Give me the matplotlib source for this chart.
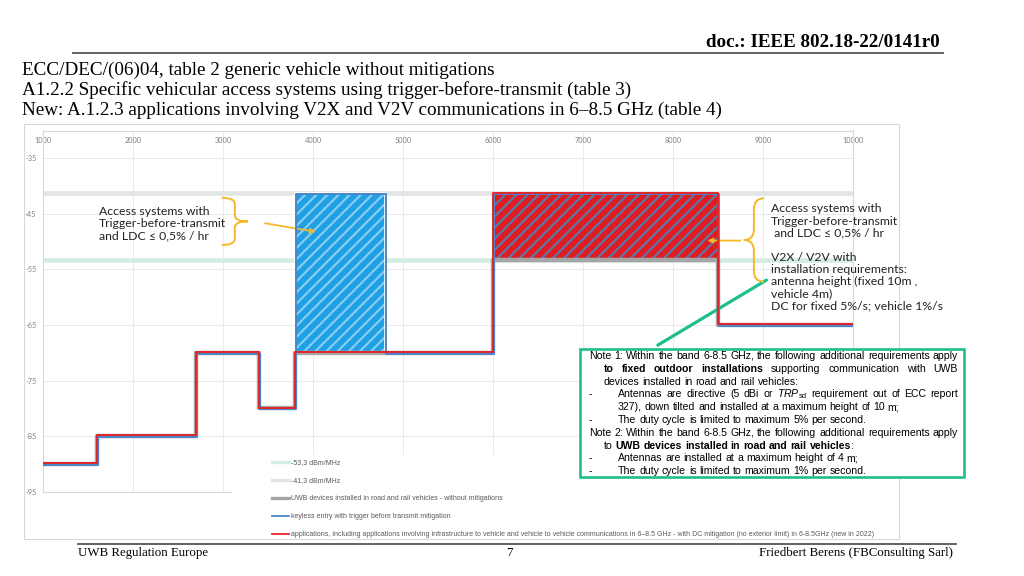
import matplotlib
matplotlib.use("Agg")
import matplotlib.pyplot as plt
import matplotlib.transforms as mtransforms
from matplotlib.lines import Line2D
from matplotlib.patches import Rectangle, PathPatch
from matplotlib.path import Path

W, H, DPI = 1024, 576, 100

# frequency band edges (MHz) and limits (dBm/MHz) per band
freq_edges = [1000, 1600, 2700, 3400, 3800, 4800, 6000, 8500, 10000]
generic_limit = [-90, -85, -70, -80, -70, -70, -53.3, -65]
keyless_limit = [-90, -85, -70, -80, -41.3, -70, -41.3, -65]
v2x_limit = [-90, -85, -70, -80, -70, -70, -41.3, -65]
ref_levels = [-53.3, -41.3]

x_ticks = [1000, 2000, 3000, 4000, 5000, 6000, 7000, 8000, 9000, 10000]
y_ticks = [-35, -45, -55, -65, -75, -85, -95]

legend_labels = [
    "-53,3 dBm/MHz",
    "-41,3 dBm/MHz",
    "UWB devices installed in road and rail vehicles - without mitigations",
    "keyless entry with trigger before transmit mitigation",
    "applications, including applications involving infrastructure to vehicle and vehicle to vehicle "
    "communications in 6\u20138.5 GHz - with DC mitigation (no exterior limit) in 6-8.5GHz (new in 2022)",
]

title_lines = [
    "ECC/DEC/(06)04, table 2 generic vehicle without mitigations",
    "A1.2.2 Specific vehicular access systems using trigger-before-transmit (table 3)",
    "New: A.1.2.3 applications involving V2X and V2V communications in 6\u20138.5 GHz (table 4)",
]

left_note = "Access systems with\nTrigger-before-transmit\nand LDC \u2264 0,5% / hr"
right_note = ("Access systems with\nTrigger-before-transmit\n and LDC \u2264 0,5% / hr\n\n"
              "V2X / V2V with\ninstallation requirements:\nantenna height (fixed 10m ,\n"
              "vehicle 4m)\nDC for fixed 5%/s; vehicle 1%/s")

# note box: (segments [(text, weight)], indent, dash, justify)
note_lines = [
    ([("Note 1: Within the band 6-8.5 GHz, the following additional requirements apply", "normal")], 0, False, True),
    ([("to fixed outdoor installations", "bold"), ("supporting communication with UWB", "normal")], 1, False, True),
    ([("devices installed in road and rail vehicles:", "normal")], 1, False, False),
    ([("Antennas are directive (5 dBi or", "normal"), (r"$\mathit{TRP}_{\mathrm{sd}}$", "normal"),
      ("requirement out of ECC report", "normal")], 2, True, True),
    ([("327), down tilted and installed at a maximum height of 10 m;", "normal")], 2, False, False),
    ([("The duty cycle is limited to maximum 5% per second.", "normal")], 2, True, False),
    ([("Note 2: Within the band 6-8.5 GHz, the following additional requirements apply", "normal")], 0, False, True),
    ([("to", "normal"), ("UWB devices installed in road and rail vehicles", "bold"), (":", "normal")], 1, False, False),
    ([("Antennas are installed at a maximum height of 4 m;", "normal")], 2, True, False),
    ([("The duty cycle is limited to maximum 1% per second.", "normal")], 2, True, False),
]

GRAY, BLUE, RED = "#a6a6a6", "#4a86c8", "#e3242b"
YELLOW, TEAL = "#f5b828", "#1dbf8c"

plt.rcParams["font.family"] = ["Lato", "DejaVu Sans"]
plt.rcParams["axes.unicode_minus"] = False
plt.rcParams["mathtext.fontset"] = "custom"
plt.rcParams["mathtext.rm"] = "Liberation Sans"
plt.rcParams["mathtext.it"] = "Liberation Sans:italic"
plt.rcParams["mathtext.bf"] = "Liberation Sans:bold"
plt.rcParams["hatch.linewidth"] = 1.6


def px(x, y):
    """Pixel position (from top left) to figure fraction"""
    return x / W, 1 - y / H


def steps(values):
    return list(values) + [values[-1]]


def hatched_box(ax, x0, x1, y0, y1, face, hatch_color):
    ax.add_patch(Rectangle((x0, y0), x1 - x0, y1 - y0, facecolor=face, edgecolor="none", zorder=2))
    ax.add_patch(Rectangle((x0, y0), x1 - x0, y1 - y0, facecolor="none", edgecolor=hatch_color,
                           hatch="///", lw=0, zorder=2.1))
    ax.add_patch(Rectangle((x0, y0), x1 - x0, y1 - y0, facecolor="none", edgecolor="white",
                           lw=1.2, zorder=2.2))


def brace(ax, x_open, x_tip, y_top, y_bot, color):
    xm = (x_open + x_tip) / 2
    ym = (y_top + y_bot) / 2
    r = (y_top - y_bot) * 0.13
    verts = [(x_open, y_top), (xm, y_top), (xm, y_top - r), (xm, ym + r), (xm, ym), (x_tip, ym),
             (xm, ym), (xm, ym - r), (xm, y_bot + r), (xm, y_bot), (x_open, y_bot)]
    codes = [Path.MOVETO, Path.CURVE3, Path.CURVE3, Path.LINETO, Path.CURVE3, Path.CURVE3,
             Path.CURVE3, Path.CURVE3, Path.LINETO, Path.CURVE3, Path.CURVE3]
    ax.add_patch(PathPatch(Path(verts, codes), fill=False, edgecolor=color, lw=1.4,
                           clip_on=False, zorder=6))


def note_box(fig, renderer):
    size = 7.6
    x_left, x_right = 589, 958
    indents = [589, 604, 618]
    y = 356
    for segments, indent, dash, justify in note_lines:
        words = []
        for text, weight in segments:
            parts = [text] if text.startswith("$") else text.split(" ")
            words += [(w, weight) for w in parts]
        arts = [fig.text(0, 0, w, fontsize=size, fontweight=wt, family="Liberation Sans",
                         va="center", ha="left", zorder=6) for w, wt in words]
        widths = [a.get_window_extent(renderer).width for a in arts]
        x0 = indents[indent]
        gap = size * DPI / 72 * 0.278
        if justify and len(arts) > 1:
            gap = (x_right - x0 - sum(widths)) / (len(arts) - 1)
        x = x0
        for a, w, (word, _) in zip(arts, widths, words):
            if word == ":":
                x -= gap
            a.set_position(px(x, y))
            x += w + gap
        if dash:
            fig.text(*px(x_left, y), "-", fontsize=size, family="Liberation Sans", va="center", zorder=6)
        y += 12.8


def main():
    fig = plt.figure(figsize=(W / DPI, H / DPI), dpi=DPI)
    ax = fig.add_axes([43.3 / W, 1 - 491.9 / H, 810 / W, 361.4 / H])

    # reference levels
    for level, color in zip(ref_levels, ["#d4ede1", "#e3e5e3"]):
        ax.axhline(level, color=color, lw=3.3, zorder=1)

    # hatched areas between the generic limit and the mitigated limits
    for i in range(len(generic_limit)):
        x0, x1 = freq_edges[i], freq_edges[i + 1]
        if keyless_limit[i] > v2x_limit[i]:
            hatched_box(ax, x0, x1, generic_limit[i], keyless_limit[i], "#1f9fe4", "#86cdf3")
        if v2x_limit[i] > generic_limit[i]:
            hatched_box(ax, x0, x1, generic_limit[i], v2x_limit[i], "#e01b22", "#5a7aa6")

    off_blue = ax.transData + mtransforms.ScaledTranslation(0.6 / DPI, -1.0 / DPI, fig.dpi_scale_trans)
    off_red = ax.transData + mtransforms.ScaledTranslation(0, 0.8 / DPI, fig.dpi_scale_trans)
    ax.plot(freq_edges, steps(generic_limit), drawstyle="steps-post", color=GRAY, lw=3.2, zorder=3)
    ax.plot(freq_edges, steps(keyless_limit), drawstyle="steps-post", color=BLUE, lw=1.4, zorder=4,
            transform=off_blue)
    ax.plot(freq_edges, steps(v2x_limit), drawstyle="steps-post", color=RED, lw=1.4, zorder=5,
            transform=off_red)

    ax.set_xlim(freq_edges[0], freq_edges[-1])
    ax.set_ylim(-95, -30)
    ax.set_xticks(x_ticks)
    ax.set_yticks(y_ticks)
    ax.tick_params(axis="x", top=False, bottom=False, labeltop=True, labelbottom=False, length=0,
                   pad=-9.4, labelsize=5.3, labelcolor="#7f7f7f")
    ax.tick_params(axis="y", left=False, length=0, pad=5, labelsize=5.3, labelcolor="#7f7f7f")
    ax.grid(True, color="#e6e6e6", lw=0.6)
    ax.set_axisbelow(True)
    for spine in ax.spines.values():
        spine.set_color("#d9d9d9")
        spine.set_linewidth(0.8)

    # annotations
    ax.text(1622, -46.7, left_note, fontsize=8.8, va="center", ha="left", linespacing=1.12, color="#222222")
    brace(ax, 2982, 3274, -42.1, -50.6, YELLOW)
    ax.annotate("", xy=(4056, -48.3), xytext=(3433, -46.6),
                arrowprops=dict(arrowstyle="-|>", color=YELLOW, lw=1.3, mutation_scale=7))
    ax.text(9087, -52.8, right_note, fontsize=8.8, va="center", ha="left", linespacing=1.12,
            color="#222222")
    brace(ax, 9008, 8783, -42.2, -57.2, YELLOW)
    ax.annotate("", xy=(8349, -49.8), xytext=(8775, -49.8),
                arrowprops=dict(arrowstyle="-|>", color=YELLOW, lw=1.3, mutation_scale=7))
    ax.annotate("", xy=(7828, -68.6), xytext=(9035, -56.9),
                arrowprops=dict(arrowstyle="-", color=TEAL, lw=2.3, shrinkA=0, shrinkB=0))

    # chart frame and legend area
    fig.add_artist(Rectangle(px(24, 539), 875 / W, 415 / H, transform=fig.transFigure,
                             facecolor="none", edgecolor="#d9d9d9", lw=0.8, zorder=-1))
    fig.add_artist(Rectangle(px(232, 494), 622 / W, 39 / H, transform=fig.transFigure,
                             facecolor="white", edgecolor="none", zorder=1))
    handles = [Line2D([], [], color="#d4ede1", lw=2.4), Line2D([], [], color="#e3e5e3", lw=2.4),
               Line2D([], [], color=GRAY, lw=2.4), Line2D([], [], color=BLUE, lw=1.3),
               Line2D([], [], color=RED, lw=1.3)]
    fig.legend(handles, legend_labels, loc="upper left", bbox_to_anchor=px(272, 459.5),
               frameon=False, prop={"family": "Liberation Sans", "size": 5.0}, labelcolor="#595959",
               handlelength=2.45, handletextpad=0.3, labelspacing=1.58, borderpad=0,
               borderaxespad=0).set_zorder(5)

    # note box
    fig.add_artist(Rectangle(px(580, 476.5), 384 / W, 127.5 / H, transform=fig.transFigure,
                             facecolor="white", edgecolor=TEAL, lw=1.9, zorder=4))
    note_box(fig, fig.canvas.get_renderer())

    # slide header and footer
    fig.text(*px(940, 42.7), "doc.: IEEE 802.18-22/0141r0", ha="right", va="center",
             family="Liberation Serif", fontweight="bold", fontsize=13.7)
    fig.add_artist(Line2D([72.7 / W, 942.7 / W], [1 - 52.7 / H] * 2, color="#555555", lw=1.3))
    for i, line in enumerate(title_lines):
        fig.text(*px(21.7, 70.5 + 20 * i), line, ha="left", va="center",
                 family="Liberation Serif", fontsize=13.8)
    fig.add_artist(Line2D([77.5 / W, 956 / W], [1 - 544 / H] * 2, color="#555555", lw=1.3))
    fig.text(*px(77.5, 553), "UWB Regulation Europe", ha="left", va="center",
             family="Liberation Serif", fontsize=9.3)
    fig.text(*px(509, 553), "7", ha="center", va="center", family="Liberation Serif", fontsize=9.3)
    fig.text(*px(953, 553), "Friedbert Berens (FBConsulting Sarl)", ha="right", va="center",
             family="Liberation Serif", fontsize=9.3)

    fig.savefig("out.png", dpi=DPI)


if __name__ == "__main__":
    main()
